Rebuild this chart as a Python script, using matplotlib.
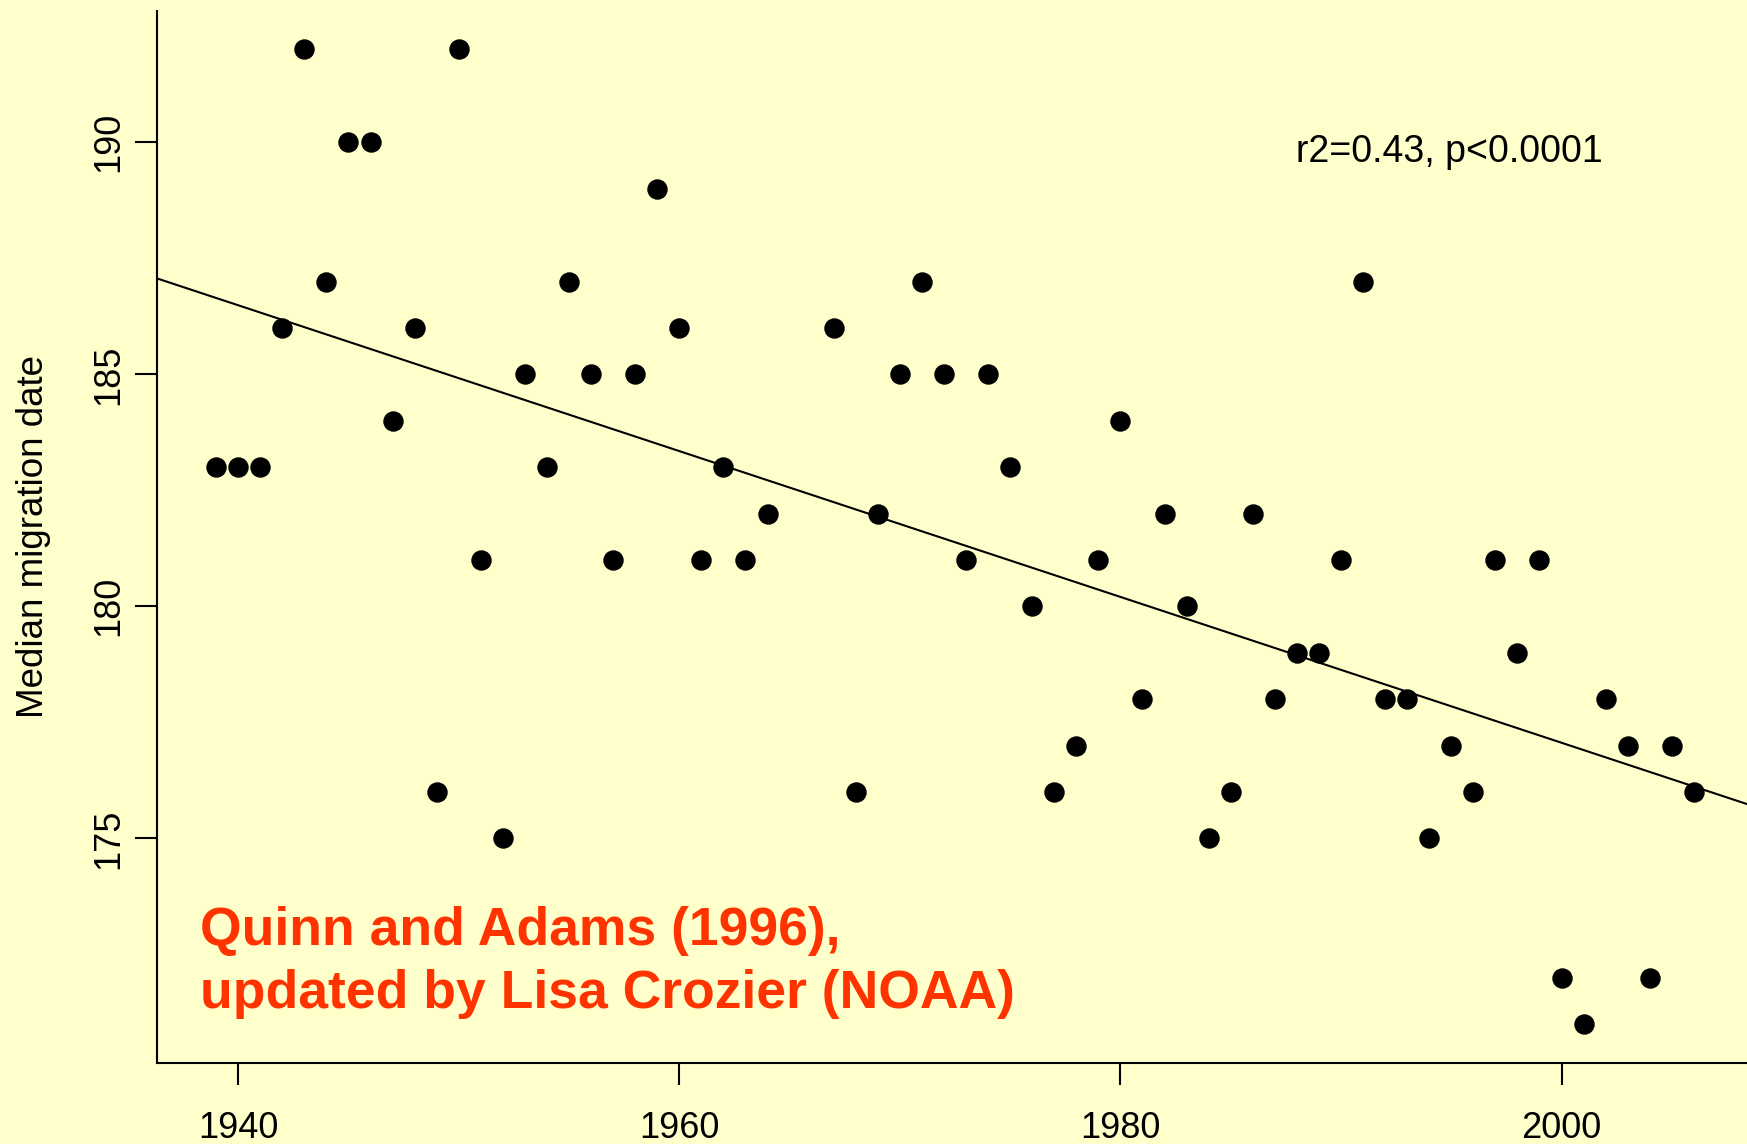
import numpy as np
import matplotlib.pyplot as plt

plt.rcParams['font.family'] = ['Liberation Sans', 'DejaVu Sans']

years = [1939, 1940, 1941, 1942, 1943, 1944, 1945, 1946, 1947, 1948, 1949,
         1950, 1951, 1952, 1953, 1954, 1955, 1956, 1957, 1958, 1959, 1960,
         1961, 1962, 1963, 1964, 1967, 1968, 1969, 1970, 1971, 1972, 1973,
         1974, 1975, 1976, 1977, 1978, 1979, 1980, 1981, 1982, 1983, 1984,
         1985, 1986, 1987, 1988, 1989, 1990, 1991, 1992, 1993, 1994, 1995,
         1996, 1997, 1998, 1999, 2000, 2001, 2002, 2003, 2004, 2005, 2006]
median_date = [183, 183, 183, 186, 192, 187, 190, 190, 184, 186, 176,
               192, 181, 175, 185, 183, 187, 185, 181, 185, 189, 186,
               181, 183, 181, 182, 186, 176, 182, 185, 187, 185, 181,
               185, 183, 180, 176, 177, 181, 184, 178, 182, 180, 175,
               176, 182, 178, 179, 179, 181, 187, 178, 178, 175, 177,
               176, 181, 179, 181, 172, 171, 178, 177, 172, 177, 176]
xticks = [1940, 1960, 1980, 2000]
yticks = [175, 180, 185, 190]

bg = '#FFFFCC'
fig = plt.figure(figsize=(17.47, 11.44), dpi=100, facecolor=bg)
ax = fig.add_axes([157 / 1747, 1 - 1063 / 1144, 1596 / 1747, 1052.5 / 1144])
ax.set_facecolor(bg)

ax.plot(years, median_date, 'o', color='black', markersize=13.7)

# least squares fit, drawn across the whole plot
slope, intercept = np.polyfit(years, median_date, 1)
ax.axline((1940, intercept + slope * 1940), slope=slope, color='black', linewidth=1.5)

xr = max(years) - min(years)
yr = max(median_date) - min(median_date)
ax.set_xlim(min(years) - 0.04 * xr, max(years) + 0.04 * xr)
ax.set_ylim(min(median_date) - 0.04 * yr, max(median_date) + 0.04 * yr)

ax.spines['top'].set_visible(False)
ax.spines['right'].set_visible(False)
for s in ['left', 'bottom']:
    ax.spines[s].set_linewidth(1.5)

ax.set_xticks(xticks)
ax.set_yticks(yticks)
ax.tick_params(direction='out', length=15.8, width=1.5, labelsize=26, colors='black')
ax.tick_params(axis='x', pad=19)
ax.tick_params(axis='y', pad=6)
for lab in ax.get_yticklabels():
    lab.set_rotation(90)
    lab.set_va('center')

ax.set_ylabel('Median migration date', fontsize=26.5, labelpad=29)

ax.text(1994.9, 189.8, 'r2=0.43, p<0.0001', fontsize=27, ha='center', va='center')

red = '#FF3300'
ax.text(1938.27, 172.70, 'Quinn and Adams (1996),', fontsize=38.5,
        fontweight='bold', color=red, ha='left', va='baseline')
ax.text(1938.27, 171.34, 'updated by Lisa Crozier (NOAA)', fontsize=38.5,
        fontweight='bold', color=red, ha='left', va='baseline')

plt.savefig('out.png', dpi=100, facecolor=bg)
